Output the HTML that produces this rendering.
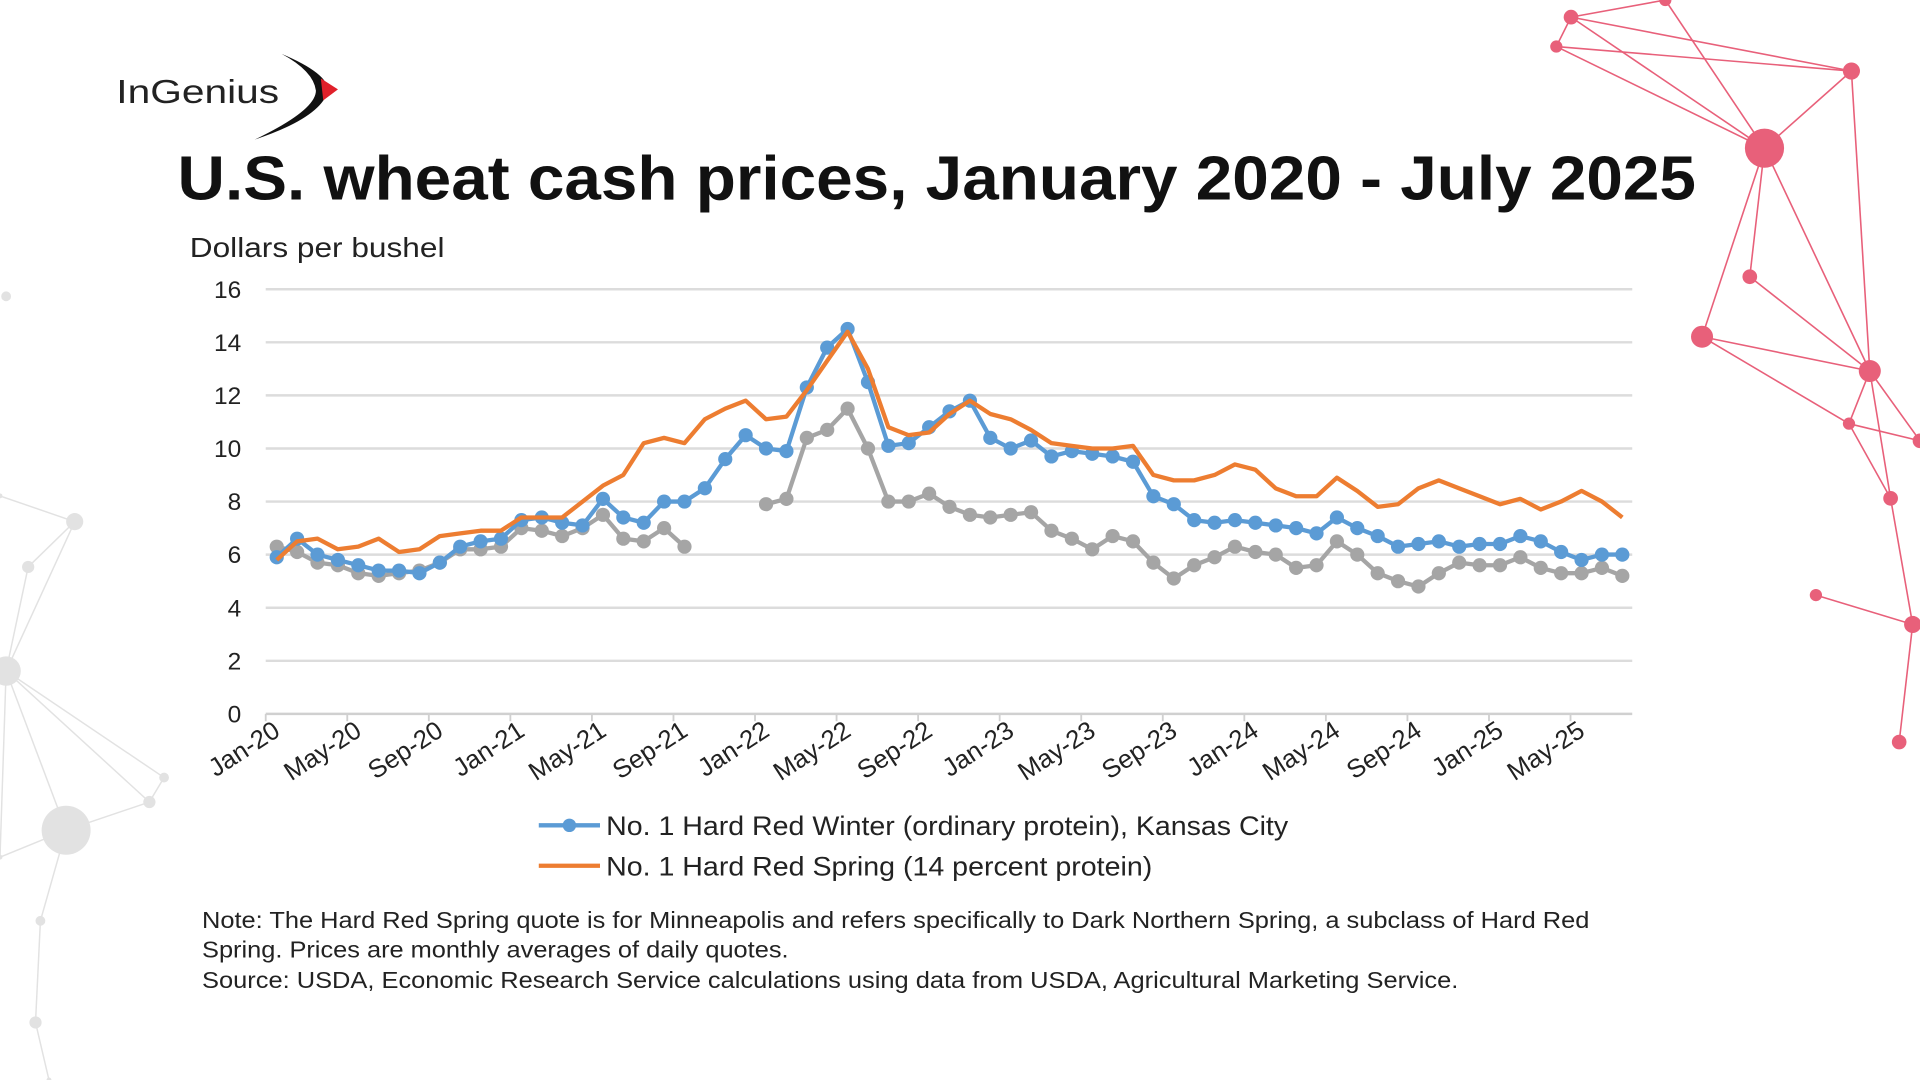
<!DOCTYPE html>
<html><head><meta charset="utf-8"><style>
html,body{margin:0;padding:0;background:#fff;overflow:hidden}
svg{display:block}
text{font-family:"Liberation Sans",sans-serif}
</style></head><body>
<svg id="root" width="1920" height="1080" viewBox="0 0 1568 882" xmlns="http://www.w3.org/2000/svg">
<g id="deco"></g>
<g>
<text x="95" y="84" font-size="27" fill="#222" textLength="133" lengthAdjust="spacingAndGlyphs">InGenius</text>
<path d="M230 44 Q268 60 268 74 Q262 96 208 114 Q258 90 258 74 Q256 58 230 44Z" fill="#111"/>
<path d="M262 64 L276 73 L264 82 Z" fill="#e0202a"/>
</g>
<text x="145" y="163" font-size="51" font-weight="bold" fill="#111" textLength="1240" lengthAdjust="spacingAndGlyphs">U.S. wheat cash prices, January 2020 - July 2025</text>
<text x="155" y="210" font-size="23" fill="#222" textLength="208" lengthAdjust="spacingAndGlyphs">Dollars per bushel</text>
<g id="chart"></g>
<g>
<g>
<line x1="440" y1="674" x2="490" y2="674" stroke="#5b9bd5" stroke-width="3.5"/><circle cx="465" cy="674" r="5.5" fill="#5b9bd5"/>
<text x="495" y="682" font-size="22" fill="#222" textLength="557" lengthAdjust="spacingAndGlyphs">No. 1 Hard Red Winter (ordinary protein), Kansas City</text></g>
<g>
<line x1="440" y1="707" x2="490" y2="707" stroke="#ed7d31" stroke-width="3.5"/>
<text x="495" y="715" font-size="22" fill="#222" textLength="446" lengthAdjust="spacingAndGlyphs">No. 1 Hard Red Spring (14 percent protein)</text></g>
</g>
<g font-size="18.5" fill="#222">
<text x="165" y="758" textLength="1133" lengthAdjust="spacingAndGlyphs">Note: The Hard Red Spring quote is for Minneapolis and refers specifically to Dark Northern Spring, a subclass of Hard Red</text>
<text x="165" y="782" textLength="479" lengthAdjust="spacingAndGlyphs">Spring. Prices are monthly averages of daily quotes.</text>
<text x="165" y="807" textLength="1026" lengthAdjust="spacingAndGlyphs">Source: USDA, Economic Research Service calculations using data from USDA, Agricultural Marketing Service.</text>
</g>
</svg>
<script>
const tickLabels=["Jan-20","May-20","Sep-20","Jan-21","May-21","Sep-21","Jan-22","May-22","Sep-22","Jan-23","May-23","Sep-23","Jan-24","May-24","Sep-24","Jan-25","May-25"];
const yTicks=[0,2,4,6,8,10,12,14,16];
const hrw=[5.9,6.6,6.0,5.8,5.6,5.4,5.4,5.3,5.7,6.3,6.5,6.6,7.3,7.4,7.2,7.1,8.1,7.4,7.2,8.0,8.0,8.5,9.6,10.5,10.0,9.9,12.3,13.8,14.5,12.5,10.1,10.2,10.8,11.4,11.8,10.4,10.0,10.3,9.7,9.9,9.8,9.7,9.5,8.2,7.9,7.3,7.2,7.3,7.2,7.1,7.0,6.8,7.4,7.0,6.7,6.3,6.4,6.5,6.3,6.4,6.4,6.7,6.5,6.1,5.8,6.0,6.0];
const hrs=[5.8,6.5,6.6,6.2,6.3,6.6,6.1,6.2,6.7,6.8,6.9,6.9,7.4,7.4,7.4,8.0,8.6,9.0,10.2,10.4,10.2,11.1,11.5,11.8,11.1,11.2,12.2,13.3,14.4,13.0,10.8,10.5,10.6,11.3,11.8,11.3,11.1,10.7,10.2,10.1,10.0,10.0,10.1,9.0,8.8,8.8,9.0,9.4,9.2,8.5,8.2,8.2,8.9,8.4,7.8,7.9,8.5,8.8,8.5,8.2,7.9,8.1,7.7,8.0,8.4,8.0,7.4];
const gray=[6.3,6.1,5.7,5.6,5.3,5.2,5.3,5.4,5.7,6.2,6.2,6.3,7.0,6.9,6.7,7.0,7.5,6.6,6.5,7.0,6.3,null,null,null,7.9,8.1,10.4,10.7,11.5,10.0,8.0,8.0,8.3,7.8,7.5,7.4,7.5,7.6,6.9,6.6,6.2,6.7,6.5,5.7,5.1,5.6,5.9,6.3,6.1,6.0,5.5,5.6,6.5,6.0,5.3,5.0,4.8,5.3,5.7,5.6,5.6,5.9,5.5,5.3,5.3,5.5,5.2];
const NS="http://www.w3.org/2000/svg";
const X0=226,DX=16.65,Y0=583,YS=21.675,GL=217,GR=1333;
function xs(i){return X0+i*DX;}
function ys(v){return Y0-v*YS;}
function mk(tag,attrs,parent){const e=document.createElementNS(NS,tag);for(const k in attrs)e.setAttribute(k,attrs[k]);parent.appendChild(e);return e;}
const chart=document.getElementById('chart');
yTicks.forEach(v=>{
  const g=mk('line',{x1:GL,x2:GR,y1:ys(v),y2:ys(v),stroke:v===0?'#d0d0d0':'#dcdcdc','stroke-width':2},chart);
  
  
  const t=mk('text',{x:197,y:ys(v)+7,'font-size':20,'text-anchor':'end',fill:'#222'},chart);
  t.textContent=v;
  
  
});
tickLabels.forEach((lab,k)=>{
  const tx=GL+k*4*DX;
  const tk=mk('line',{x1:tx,x2:tx,y1:ys(0),y2:ys(0)+6,stroke:'#d0d0d0','stroke-width':1.5},chart);
  
  
  const cx=xs(k*4)+4,cy=600;
  const t=mk('text',{x:cx,y:cy,'font-size':21,'text-anchor':'end',fill:'#222',transform:'rotate(-33 '+cx+' '+cy+')'},chart);
  t.textContent=lab;
  
  
});
function drawSeries(data,color,markers,name){
  const g=mk('g',{},chart);
  
  
  let d='',pen=false;
  data.forEach((v,i)=>{if(v==null){pen=false;return;}d+=(pen?'L':'M')+xs(i).toFixed(1)+' '+ys(v).toFixed(1)+' ';pen=true;});
  const p=mk('path',{d:d,fill:'none',stroke:color,'stroke-width':3.5,'stroke-linejoin':'round'},g);
  
  
  if(markers)data.forEach((v,i)=>{if(v==null)return;
    const c=mk('circle',{cx:xs(i),cy:ys(v),r:5.8,fill:color},g);
    
    
  });
}
drawSeries(gray,'#a5a5a5',true,'gray-series');
drawSeries(hrw,'#5b9bd5',true,'hrw-series');
drawSeries(hrs,'#ed7d31',false,'hrs-series');
const deco=document.getElementById('deco');
const pink=[[1283,14,6],[1271,38,5],[1360,0,5],[1512,58,7],[1441,121,16],[1429,226,6],[1390,275,9],[1527,303,9],[1510,346,5],[1568,360,6],[1544,407,6],[1483,486,5],[1562,510,7],[1551,606,6]];
const pe=[[0,3],[0,4],[1,4],[0,2],[2,4],[1,0],[3,4],[3,7],[4,5],[4,6],[4,7],[5,7],[6,7],[7,8],[6,8],[7,9],[8,10],[7,10],[10,12],[11,12],[12,13],[8,9],[3,1]];
pe.forEach(e=>{const a=pink[e[0]],b=pink[e[1]];const l=mk('line',{x1:a[0],y1:a[1],x2:b[0],y2:b[1],stroke:'#e8607a','stroke-width':1.3},deco);});
pink.forEach(p=>{const c=mk('circle',{cx:p[0],cy:p[1],r:p[2],fill:'#e8607a'},deco);});
const grayN=[[5,242,4],[61,426,7],[23,463,5],[5,548,12],[54,678,20],[134,635,4],[122,655,5],[33,752,4],[29,835,5],[0,405,2],[0,700,2],[40,882,2]];
const ge=[[1,3],[2,3],[9,1],[3,4],[3,5],[3,6],[4,6],[4,7],[7,8],[3,10],[4,10],[8,11],[1,2],[6,5]];
ge.forEach(e=>{const a=grayN[e[0]],b=grayN[e[1]];const l=mk('line',{x1:a[0],y1:a[1],x2:b[0],y2:b[1],stroke:'#e2e2e2','stroke-width':1.2},deco);});
grayN.forEach(p=>{const c=mk('circle',{cx:p[0],cy:p[1],r:p[2],fill:'#e2e2e2'},deco);});
</script>
</body></html>
